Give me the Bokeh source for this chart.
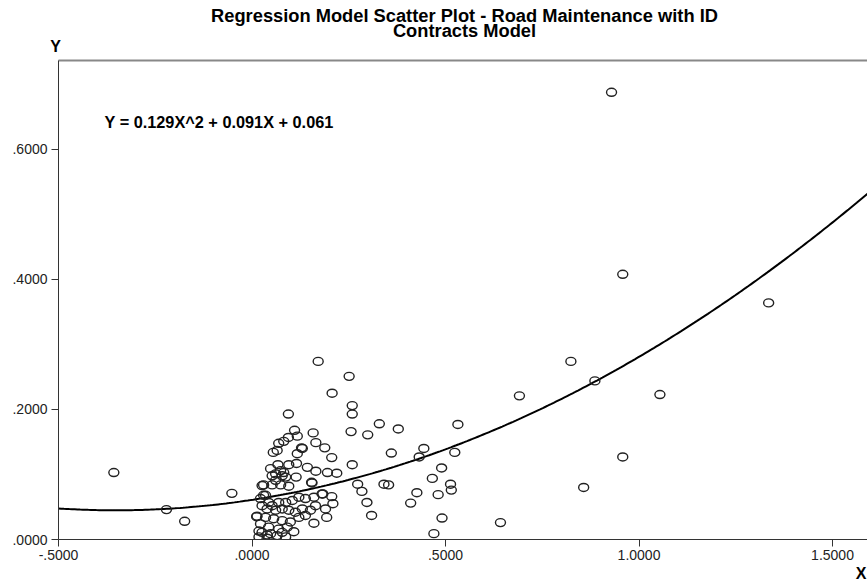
import numpy as np
from bokeh.plotting import figure
from bokeh.layouts import column, row
from bokeh.models import (ColumnDataSource, LinearAxis, FixedTicker, Label, Title,
                          CustomJSTickFormatter, Range1d)
from bokeh.core.properties import value
from bokeh.embed import file_html
from bokeh.resources import INLINE

# ---- data ----
x_sparse = [0.929, 0.958, 1.335, 0.824, 0.886, 0.691, 1.054, 0.532, 0.524, 0.958,
            0.490, 0.857, 0.642, -0.357, -0.221, -0.174, -0.052, 0.012]
y_sparse = [0.688, 0.408, 0.364, 0.274, 0.244, 0.221, 0.223, 0.177, 0.134, 0.127,
            0.110, 0.080, 0.026, 0.103, 0.046, 0.028, 0.071, 0.035]

x_mid = [0.171, 0.251, 0.207, 0.259, 0.259, 0.329, 0.378, 0.256, 0.299, 0.158,
         0.165, 0.188, 0.130, 0.206, 0.360, 0.444, 0.432, 0.259, 0.143, 0.165,
         0.195, 0.219, 0.466, 0.154, 0.273, 0.284, 0.341, 0.353, 0.513, 0.515,
         0.426, 0.481, 0.410, 0.297, 0.309, 0.491, 0.470, 0.160, 0.193, 0.206,
         0.209, 0.183]
y_mid = [0.274, 0.251, 0.225, 0.206, 0.193, 0.178, 0.170, 0.166, 0.161, 0.164,
         0.149, 0.141, 0.140, 0.126, 0.133, 0.140, 0.127, 0.115, 0.111, 0.105,
         0.103, 0.102, 0.094, 0.088, 0.085, 0.074, 0.085, 0.084, 0.085, 0.076,
         0.072, 0.069, 0.056, 0.057, 0.037, 0.033, 0.009, 0.025, 0.034, 0.066,
         0.055, 0.070]

x_upper_cluster = [0.094, 0.110, 0.117, 0.094, 0.069, 0.082, 0.055, 0.065, 0.128, 0.117,
                   0.067, 0.095, 0.115, 0.052, 0.078, 0.061, 0.087, 0.030, 0.052, 0.074,
                   0.095, 0.114, 0.155, 0.048, 0.074, 0.061, 0.082, 0.026]
y_upper_cluster = [0.193, 0.168, 0.159, 0.157, 0.148, 0.151, 0.134, 0.137, 0.141, 0.132,
                   0.115, 0.115, 0.117, 0.098, 0.098, 0.091, 0.096, 0.084, 0.084, 0.084,
                   0.082, 0.096, 0.087, 0.109, 0.106, 0.101, 0.103, 0.083]

x_lower_cluster = [0.035, 0.022, 0.043, 0.026, 0.039, 0.052, 0.069, 0.087, 0.104, 0.121,
                   0.138, 0.160, 0.181, 0.190, 0.164, 0.151, 0.130, 0.112, 0.095, 0.078,
                   0.061, 0.013, 0.035, 0.056, 0.078, 0.099, 0.121, 0.138, 0.022, 0.043,
                   0.069, 0.091, 0.108, 0.026, 0.048, 0.078, 0.018, 0.039, 0.065, 0.087,
                   0.030, 0.018, 0.039]
y_lower_cluster = [0.068, 0.063, 0.057, 0.052, 0.047, 0.052, 0.057, 0.057, 0.060, 0.065,
                   0.063, 0.065, 0.070, 0.047, 0.052, 0.045, 0.047, 0.042, 0.045, 0.047,
                   0.045, 0.036, 0.034, 0.032, 0.029, 0.027, 0.034, 0.037, 0.024, 0.019,
                   0.016, 0.019, 0.012, 0.011, 0.009, 0.011, 0.004, 0.002, 0.006, 0.004,
                   0.068, 0.013, 0.007]

# quadratic fit shown on the chart: Y = a X^2 + b X + c
fit_coeffs = [0.129, 0.091, 0.061]
equation_text = "Y = 0.129X^2 + 0.091X + 0.061"
title_lines = ["Regression Model Scatter Plot - Road Maintenance with ID", "Contracts Model"]
x_axis_title = "X"
y_axis_title = "Y"
x_ticks = [-0.5, 0.0, 0.5, 1.0, 1.5]
y_ticks = [0.0, 0.2, 0.4, 0.6]

xs = x_sparse + x_mid + x_upper_cluster + x_lower_cluster
ys = y_sparse + y_mid + y_upper_cluster + y_lower_cluster

X_MIN, X_MAX = -0.5, 1.5904
Y_MIN, Y_MAX = 0.0, 0.7369
FONT = "Liberation Sans"

# ---- header strip: title and the "Y" axis title (pixel-space figure) ----
HEAD_H = 58
head = figure(width=867, height=HEAD_H, output_backend="svg", toolbar_location=None,
              x_range=Range1d(0, 867), y_range=Range1d(HEAD_H, 0),
              min_border=0, x_axis_location=None, y_axis_location=None)
head.title_location = None
head.outline_line_color = None
head.xgrid.visible = False
head.ygrid.visible = False
head.text(x=[464, 464], y=[14.5, 29.5], text=title_lines, text_align="center",
          text_baseline="alphabetic", text_font=value(FONT), text_font_style="bold",
          text_font_size="18.3px", text_color="black")
head.text(x=[55], y=[46], text=[y_axis_title], text_align="center",
          text_baseline="alphabetic", text_font=value(FONT), text_font_style="bold",
          text_font_size="16px", text_color="black")

# ---- main plot ----
p = figure(width=867, height=582 - HEAD_H, output_backend="svg", toolbar_location=None,
           x_range=Range1d(X_MIN, X_MAX), y_range=Range1d(Y_MIN, Y_MAX),
           min_border_left=58, min_border_right=0, min_border_top=2,
           min_border_bottom=43, x_axis_location=None, y_axis_location=None)
p.title_location = None
p.outline_line_color = None
p.xgrid.visible = False
p.ygrid.visible = False
p.background_fill_color = "white"
p.border_fill_color = "white"

fmt = CustomJSTickFormatter(code=r"""
var s = tick.toFixed(4);
return s.replace(/^(-?)0\./, '$1.');
""")

def style_axis(ax):
    ax.axis_line_color = "#333333"
    ax.axis_line_width = 1
    ax.major_tick_line_color = "#333333"
    ax.major_tick_in = 0
    ax.major_tick_out = 7
    ax.minor_tick_line_color = None
    ax.major_label_text_font = FONT
    ax.major_label_text_font_size = "14px"
    ax.major_label_text_color = "#222222"
    ax.formatter = fmt

xaxis = LinearAxis(ticker=FixedTicker(ticks=x_ticks))
style_axis(xaxis)
xaxis.major_label_standoff = 3
p.add_layout(xaxis, "below")

yaxis = LinearAxis(ticker=FixedTicker(ticks=y_ticks))
style_axis(yaxis)
yaxis.major_label_standoff = 4
p.add_layout(yaxis, "left")

top = LinearAxis(ticker=FixedTicker(ticks=[]))
top.axis_line_color = "#888888"
top.axis_line_width = 2
top.major_label_text_font_size = "0px"
top.major_label_standoff = 0
top.major_tick_out = 0
top.major_tick_in = 0
top.minor_tick_line_color = None
top.major_tick_line_color = None
p.add_layout(top, "above")

p.add_layout(Title(text=x_axis_title, align="right", text_font=FONT, text_font_style="bold",
                   text_font_size="16px", text_color="black", standoff=0, offset=1), "below")

# regression curve
cx = np.linspace(X_MIN, X_MAX, 300)
a, b, c = fit_coeffs
cy = a * cx ** 2 + b * cx + c
p.line(cx, cy, line_color="black", line_width=2)

src = ColumnDataSource(dict(x=xs, y=ys))
p.ellipse(x="x", y="y", width=10, height=8, width_units="screen", height_units="screen",
          source=src, fill_color=None, line_color="#222222", line_width=1.4)

p.add_layout(Label(x=-0.381, y=0.6277, text=equation_text, text_font=FONT,
                   text_font_style="bold", text_font_size="16.3px", text_color="black"))

layout = column(row(head), p, spacing=0)
open("out.html", "w").write(file_html(layout, INLINE))
